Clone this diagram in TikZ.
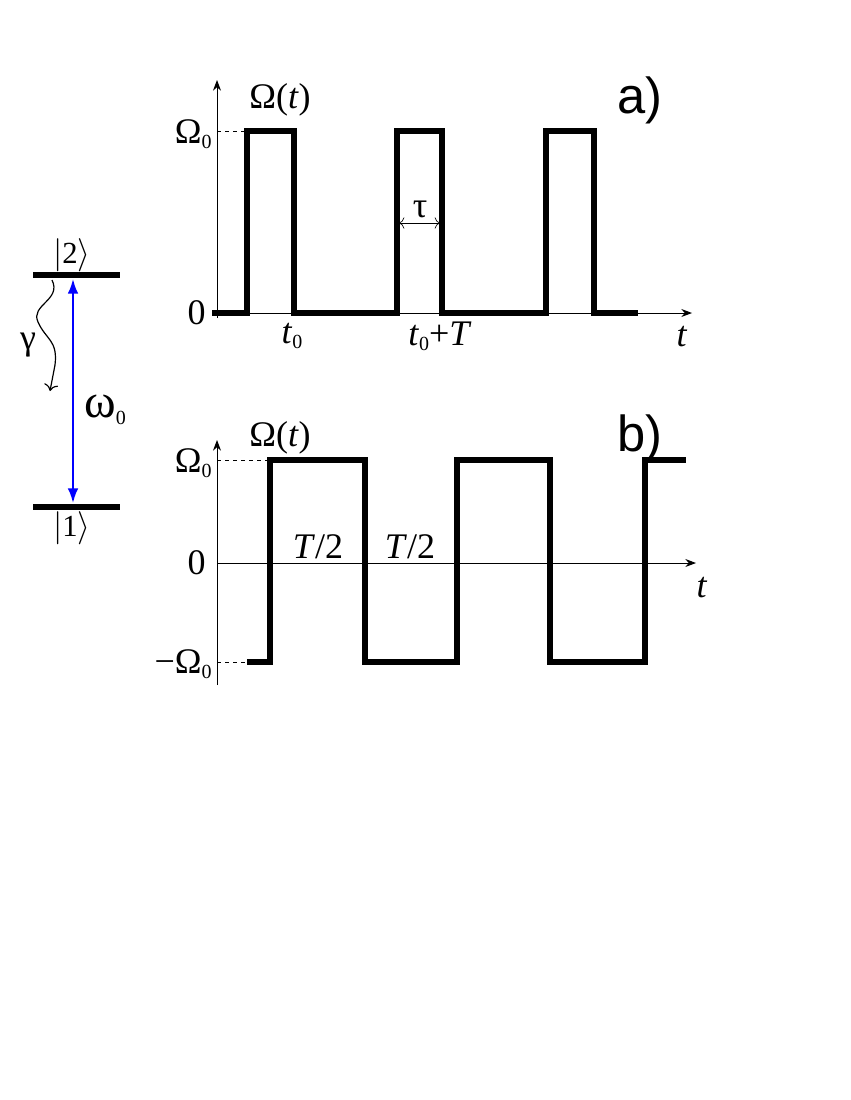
\documentclass[tikz,border=0pt]{standalone}
\usepackage{fontspec}
\setmainfont{Liberation Serif}
\newfontfamily\labfont{Liberation Sans}
\usetikzlibrary{arrows.meta}
\newcommand{\lo}[1]{\raisebox{-0.3ex}{\fontsize{15}{16}\selectfont #1}}
\begin{document}
\begin{tikzpicture}[x=0.75pt,y=-0.75pt]

\tikzset{pulse/.style={line width=3.8pt,line join=miter,black}}
\tikzset{axis/.style={line width=0.7pt,-{Stealth[length=8pt,width=6pt]}}}
\tikzset{guide/.style={dashed,line width=0.4pt}}
\tikzset{lab/.style={inner sep=0pt,font=\fontsize{27}{29}\selectfont}}
\tikzset{panel/.style={inner sep=0pt,font=\labfont\fontsize{38}{40}\selectfont}}

\useasboundingbox (0,0) rectangle (850,1100);

% level scheme
\draw[line width=3.8pt] (33,275) -- (120,275);
\draw[line width=3.8pt] (33,507) -- (120,507);
\coordinate (up) at (73,279);
\coordinate (dn) at (73,503);
\draw[blue,line width=1.5pt,{Latex[length=11pt,width=8pt]}-{Latex[length=11pt,width=8pt]}] (up) -- (dn);
\node[lab,font=\fontsize{23}{25}\selectfont] (ket2) at (72,255) {$|$2$\rangle$};
\node[lab,font=\fontsize{23}{25}\selectfont] (ket1) at (72,528) {$|$1$\rangle$};
\node[lab,font=\fontsize{36}{38}\selectfont,anchor=west] (om0) at (84,410) {ω\lo{0}};
\node[lab] (gam) at (28,345) {γ};
\draw[line width=0.9pt,-{To[length=5pt]}] (52,280) .. controls (62,300) and (30,305) .. (38,322)
  .. controls (46,340) and (58,340) .. (55,365) -- (50,391);

% panel a
\draw[axis] (217,318) -- (217,80);
\draw[axis] (212,313) -- (692,313);
\draw[guide] (217,131) -- (247,131);
\draw[pulse] (212,313) -- (247,313) -- (247,131) -- (294,131) -- (294,313)
  -- (397,313) -- (397,131) -- (442,131) -- (442,313)
  -- (546,313) -- (546,131) -- (594,131) -- (594,313) -- (638,313);
\draw[line width=0.5pt,{To[length=4pt]}-{To[length=4pt]}] (399,223) -- (440,223);
\node[lab] (tau) at (420,209) {τ};
\node[lab,anchor=west] (oma) at (249,100) {Ω(\textit{t})};
\node[panel] (pa) at (640,100) {a)};
\node[lab,anchor=east] (Ota) at (212,134) {Ω\lo{0}};
\node[lab,anchor=east] (zra) at (206,313) {0};
\node[lab] (ta) at (682,337) {\textit{t}};
\node[lab] (t0) at (292,336) {\textit{t}\lo{0}};
\node[lab] (t0T) at (440,336) {\textit{t}\lo{0}+\textit{T}};

% panel b
\draw[axis] (217,685) -- (217,440);
\draw[axis] (217,563) -- (696,563);
\draw[guide] (217,460) -- (270,460);
\draw[guide] (217,662) -- (247,662);
\draw[pulse] (247,662) -- (270,662) -- (270,460) -- (365,460) -- (365,662)
  -- (457,662) -- (457,460) -- (550,460) -- (550,662)
  -- (645,662) -- (645,460) -- (686,460);
\node[lab,anchor=west] (omb) at (249,438) {Ω(\textit{t})};
\node[panel] (pb) at (640,438) {b)};
\node[lab,anchor=east] (Otb) at (212,463) {Ω\lo{0}};
\node[lab,anchor=east] (zrb) at (206,563) {0};
\node[lab,anchor=east] (mOtb) at (212,664) {−Ω\lo{0}};
\node[lab] (tb) at (702,588) {\textit{t}};
\node[lab] (h1) at (318,547) {\textit{T}/2};
\node[lab] (h2) at (410,547) {\textit{T}/2};

\end{tikzpicture}
\end{document}
